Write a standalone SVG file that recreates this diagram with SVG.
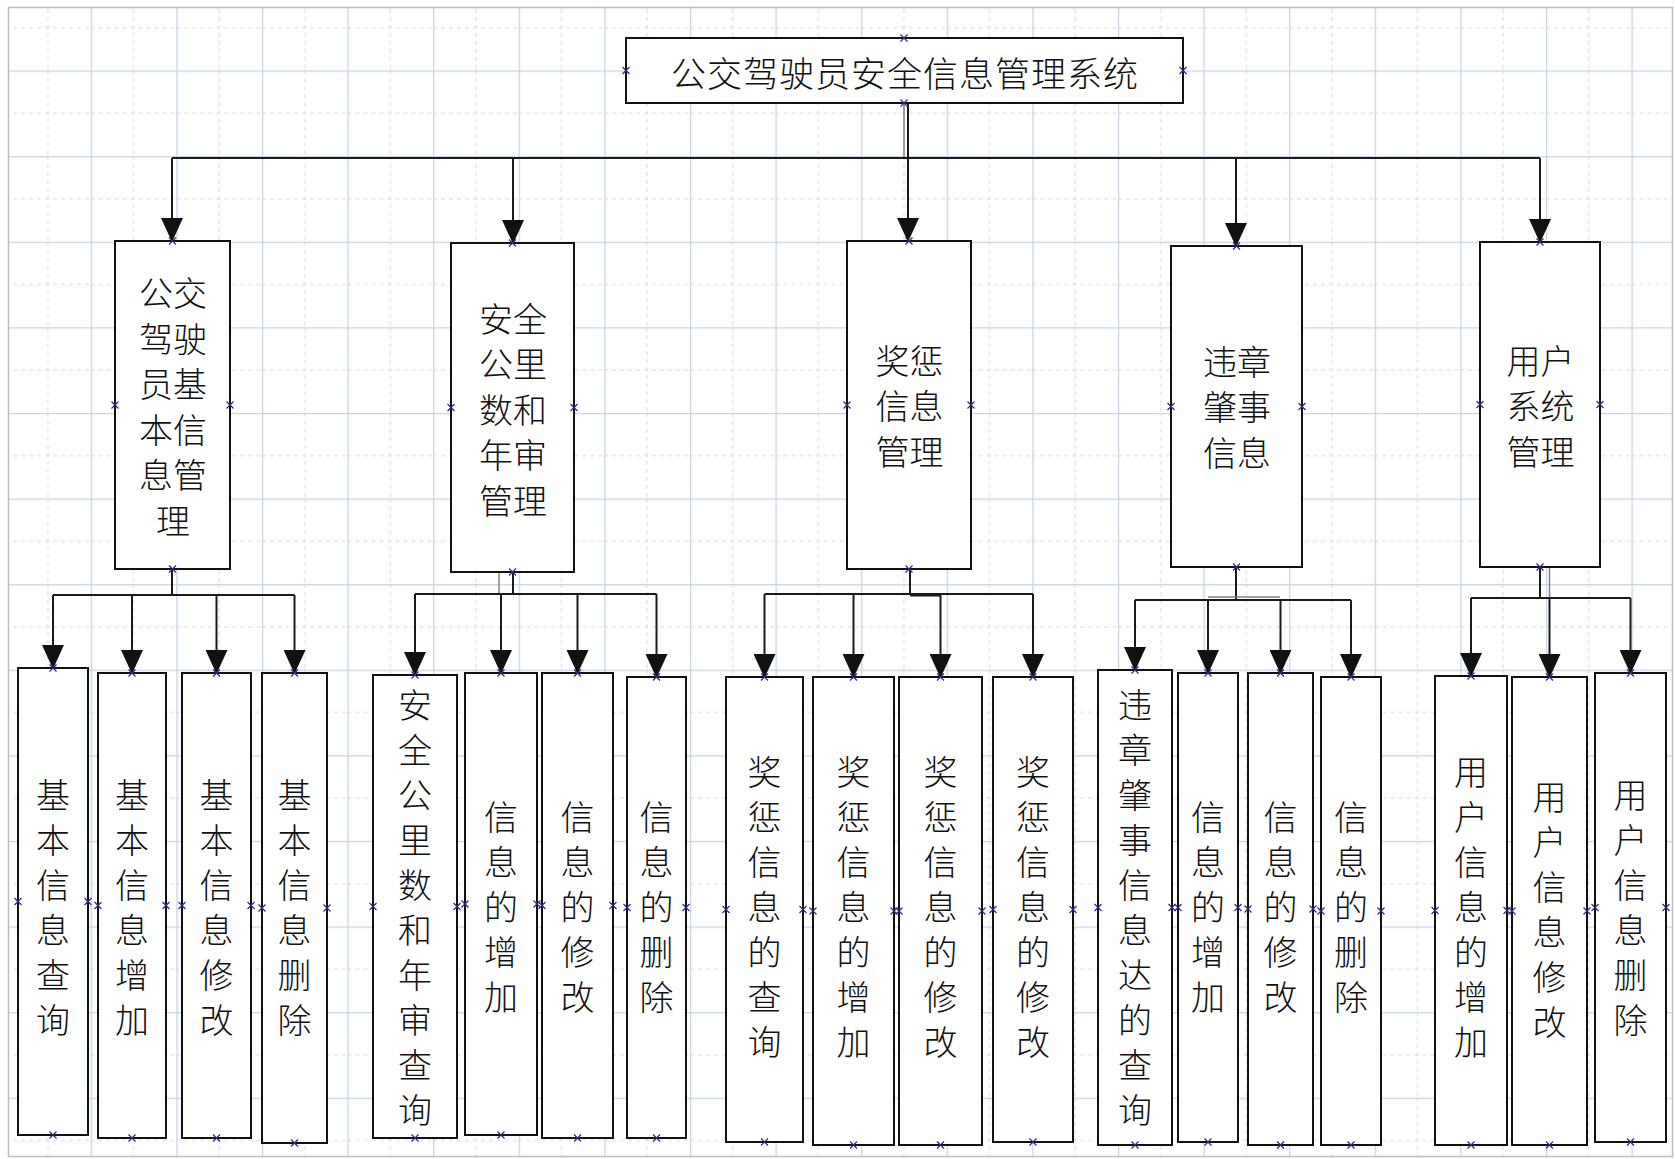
<svg xmlns="http://www.w3.org/2000/svg" xmlns:xlink="http://www.w3.org/1999/xlink" width="1675" height="1159" viewBox="0 0 1675 1159">
<style>
.bx{fill:#fff;stroke:#111;stroke-width:2}
.t{font-family:"Noto Sans CJK SC","Noto Sans",sans-serif;font-size:34px;font-weight:300;fill:#111;text-anchor:middle;dominant-baseline:central}
.ln{fill:none;stroke:#1a1a1a;stroke-width:2}
.lg{fill:none;stroke:#808080;stroke-width:1.5}
.cp{fill:none;stroke:#2b2b80;stroke-width:1.2}
</style>
<defs>
<pattern id="grid" patternUnits="userSpaceOnUse" x="5.1" y="-15.1" width="85.6" height="85.6">
<path d="M42.8,0 V85.6 M0,42.8 H85.6" stroke="#d2dae2" stroke-width="1" stroke-dasharray="4 4" fill="none"/>
<path d="M0.6,0 V85.6 M0,0.6 H85.6" stroke="#c3d5e4" stroke-width="1.3" fill="none"/>
</pattern>
<marker id="ah" markerUnits="userSpaceOnUse" viewBox="0 0 24 22" refX="23" refY="11" markerWidth="24" markerHeight="22" orient="auto">
<path d="M0,0 L24,11 L0,22 z" fill="#111"/>
</marker>
<path id="x" d="M-3.5,-3.5 L3.5,3.5 M-3.5,3.5 L3.5,-3.5"/>
</defs>
<rect width="1675" height="1159" fill="#fff"/>
<rect x="8.5" y="7.5" width="1664" height="1149" fill="url(#grid)" stroke="#bdbdbd" stroke-width="1.5"/>

<g id="connectors">
<line class="lg" x1="904" y1="103" x2="904" y2="158"/>
<line class="ln" x1="908" y1="103" x2="908" y2="241" marker-end="url(#ah)"/>
<line class="ln" x1="172" y1="158" x2="1540" y2="158" stroke="#333"/>
<line class="ln" x1="172" y1="158" x2="172" y2="241" marker-end="url(#ah)"/>
<line class="ln" x1="513" y1="158" x2="513" y2="243" marker-end="url(#ah)"/>
<line class="ln" x1="1236" y1="158" x2="1236" y2="246" marker-end="url(#ah)" stroke="#333"/>
<line class="ln" x1="1540" y1="158" x2="1540" y2="242" marker-end="url(#ah)" stroke="#333"/>

<polyline class="ln" points="172,569 172,595"/>
<line class="ln" x1="53" y1="595" x2="294.5" y2="595"/>
<line class="ln" x1="53" y1="595" x2="53" y2="668" marker-end="url(#ah)"/>
<line class="ln" x1="132" y1="595" x2="132" y2="673" marker-end="url(#ah)"/>
<line class="ln" x1="216.5" y1="595" x2="216.5" y2="673" marker-end="url(#ah)"/>
<line class="ln" x1="294.5" y1="595" x2="294.5" y2="673" marker-end="url(#ah)"/>

<line class="ln" x1="513" y1="572" x2="513" y2="594"/>
<line class="lg" x1="499" y1="572" x2="499" y2="594"/>
<line class="ln" x1="415" y1="594" x2="656.5" y2="594"/>
<line class="ln" x1="415" y1="594" x2="415" y2="675" marker-end="url(#ah)"/>
<line class="ln" x1="501" y1="594" x2="501" y2="673" marker-end="url(#ah)"/>
<line class="ln" x1="577.5" y1="594" x2="577.5" y2="673" marker-end="url(#ah)"/>
<line class="ln" x1="656.5" y1="594" x2="656.5" y2="677" marker-end="url(#ah)"/>

<line class="ln" x1="910" y1="569" x2="910" y2="594"/>
<line class="ln" x1="764.5" y1="594" x2="1033" y2="594"/>
<line class="ln" x1="910" y1="595.5" x2="941" y2="595.5" stroke-width="2.5"/>
<line class="ln" x1="764.5" y1="594" x2="764.5" y2="677" marker-end="url(#ah)"/>
<line class="ln" x1="853.5" y1="594" x2="853.5" y2="677" marker-end="url(#ah)"/>
<line class="ln" x1="940.5" y1="594" x2="940.5" y2="677" marker-end="url(#ah)"/>
<line class="ln" x1="1033" y1="594" x2="1033" y2="677" marker-end="url(#ah)"/>

<line class="ln" x1="1236" y1="567" x2="1236" y2="600"/>
<line class="ln" x1="1135" y1="600" x2="1351" y2="600"/>
<line class="lg" x1="1208" y1="597" x2="1280" y2="597"/>
<line class="ln" x1="1135" y1="600" x2="1135" y2="670" marker-end="url(#ah)"/>
<line class="ln" x1="1208" y1="600" x2="1208" y2="673" marker-end="url(#ah)"/>
<line class="ln" x1="1280.5" y1="600" x2="1280.5" y2="673" marker-end="url(#ah)"/>
<line class="ln" x1="1351" y1="600" x2="1351" y2="677" marker-end="url(#ah)"/>

<line class="ln" x1="1540" y1="567" x2="1540" y2="598" stroke-width="3.5"/>
<line class="lg" x1="1549.5" y1="567" x2="1549.5" y2="598"/>
<line class="ln" x1="1471" y1="598" x2="1630.5" y2="598"/>
<line class="ln" x1="1471" y1="598" x2="1471" y2="676" marker-end="url(#ah)"/>
<line class="ln" x1="1549.5" y1="598" x2="1549.5" y2="677" marker-end="url(#ah)"/>
<line class="ln" x1="1630.5" y1="598" x2="1630.5" y2="673" marker-end="url(#ah)"/>
</g>

<g id="root">
<rect class="bx" x="626" y="38" width="557" height="65"/>
<text class="t" x="905" y="71" style="font-size:35px;letter-spacing:1px">公交驾驶员安全信息管理系统</text>
<g class="cp"><use href="#x" x="904" y="38"/><use href="#x" x="904" y="103"/><use href="#x" x="626" y="70.5"/><use href="#x" x="1183" y="70.5"/></g>
</g>

<g id="n1">
<rect class="bx" x="115" y="241" width="115" height="328"/>
<text class="t" x="173"><tspan x="173" y="291.25">公交</tspan><tspan x="173" y="336.75">驾驶</tspan><tspan x="173" y="382.25">员基</tspan><tspan x="173" y="427.75">本信</tspan><tspan x="173" y="473.25">息管</tspan><tspan x="173" y="518.75">理</tspan></text>
<g class="cp"><use href="#x" x="172.5" y="241"/><use href="#x" x="172.5" y="569"/><use href="#x" x="115" y="405"/><use href="#x" x="230" y="405"/></g>
</g>
<g id="n2">
<rect class="bx" x="451" y="243" width="123" height="329"/>
<text class="t" x="513"><tspan x="513" y="316.5">安全</tspan><tspan x="513" y="362">公里</tspan><tspan x="513" y="407.5">数和</tspan><tspan x="513" y="453">年审</tspan><tspan x="513" y="498.5">管理</tspan></text>
<g class="cp"><use href="#x" x="512.5" y="243"/><use href="#x" x="512.5" y="572"/><use href="#x" x="451" y="407.5"/><use href="#x" x="574" y="407.5"/></g>
</g>
<g id="n3">
<rect class="bx" x="847" y="241" width="124" height="328"/>
<text class="t" x="909.5"><tspan x="909.5" y="358.5">奖惩</tspan><tspan x="909.5" y="404">信息</tspan><tspan x="909.5" y="449.5">管理</tspan></text>
<g class="cp"><use href="#x" x="909" y="241"/><use href="#x" x="909" y="569"/><use href="#x" x="847" y="405"/><use href="#x" x="971" y="405"/></g>
</g>
<g id="n4">
<rect class="bx" x="1171" y="246" width="131" height="321"/>
<text class="t" x="1237"><tspan x="1237" y="359.5">违章</tspan><tspan x="1237" y="405">肇事</tspan><tspan x="1237" y="450.5">信息</tspan></text>
<g class="cp"><use href="#x" x="1236.5" y="246"/><use href="#x" x="1236.5" y="567"/><use href="#x" x="1171" y="406.5"/><use href="#x" x="1302" y="406.5"/></g>
</g>
<g id="n5">
<rect class="bx" x="1480" y="242" width="120" height="325"/>
<text class="t" x="1540.5"><tspan x="1540.5" y="358.5">用户</tspan><tspan x="1540.5" y="404">系统</tspan><tspan x="1540.5" y="449.5">管理</tspan></text>
<g class="cp"><use href="#x" x="1540" y="242"/><use href="#x" x="1540" y="567"/><use href="#x" x="1480" y="404.5"/><use href="#x" x="1600" y="404.5"/></g>
</g>

<g id="c11">
<rect class="bx" x="18" y="668" width="70" height="467"/>
<text class="t" x="53"><tspan x="53" y="792.5">基</tspan><tspan x="53" y="837.5">本</tspan><tspan x="53" y="882.5">信</tspan><tspan x="53" y="927.5">息</tspan><tspan x="53" y="972.5">查</tspan><tspan x="53" y="1017.5">询</tspan></text>
<g class="cp"><use href="#x" x="53" y="668"/><use href="#x" x="53" y="1135"/><use href="#x" x="18" y="901.5"/><use href="#x" x="88" y="901.5"/></g>
</g>
<g id="c12">
<rect class="bx" x="98" y="673" width="68" height="465"/>
<text class="t" x="132"><tspan x="132" y="792.5">基</tspan><tspan x="132" y="837.5">本</tspan><tspan x="132" y="882.5">信</tspan><tspan x="132" y="927.5">息</tspan><tspan x="132" y="972.5">增</tspan><tspan x="132" y="1017.5">加</tspan></text>
<g class="cp"><use href="#x" x="132" y="673"/><use href="#x" x="132" y="1138"/><use href="#x" x="98" y="905.5"/><use href="#x" x="166" y="905.5"/></g>
</g>
<g id="c13">
<rect class="bx" x="182" y="673" width="69" height="465"/>
<text class="t" x="216.5"><tspan x="216.5" y="792.5">基</tspan><tspan x="216.5" y="837.5">本</tspan><tspan x="216.5" y="882.5">信</tspan><tspan x="216.5" y="927.5">息</tspan><tspan x="216.5" y="972.5">修</tspan><tspan x="216.5" y="1017.5">改</tspan></text>
<g class="cp"><use href="#x" x="216.5" y="673"/><use href="#x" x="216.5" y="1138"/><use href="#x" x="182" y="905.5"/><use href="#x" x="251" y="905.5"/></g>
</g>
<g id="c14">
<rect class="bx" x="262" y="673" width="65" height="470"/>
<text class="t" x="294.5"><tspan x="294.5" y="792.5">基</tspan><tspan x="294.5" y="837.5">本</tspan><tspan x="294.5" y="882.5">信</tspan><tspan x="294.5" y="927.5">息</tspan><tspan x="294.5" y="972.5">删</tspan><tspan x="294.5" y="1017.5">除</tspan></text>
<g class="cp"><use href="#x" x="294.5" y="673"/><use href="#x" x="294.5" y="1143"/><use href="#x" x="262" y="908"/><use href="#x" x="327" y="908"/></g>
</g>

<g id="c21">
<rect class="bx" x="373" y="675" width="84" height="463"/>
<text class="t" x="415"><tspan x="415" y="702.5">安</tspan><tspan x="415" y="747.5">全</tspan><tspan x="415" y="792.5">公</tspan><tspan x="415" y="837.5">里</tspan><tspan x="415" y="882.5">数</tspan><tspan x="415" y="927.5">和</tspan><tspan x="415" y="972.5">年</tspan><tspan x="415" y="1017.5">审</tspan><tspan x="415" y="1062.5">查</tspan><tspan x="415" y="1107.5">询</tspan></text>
<g class="cp"><use href="#x" x="415" y="675"/><use href="#x" x="415" y="1138"/><use href="#x" x="373" y="906.5"/><use href="#x" x="457" y="906.5"/></g>
</g>
<g id="c22">
<rect class="bx" x="465" y="673" width="72" height="462"/>
<text class="t" x="501"><tspan x="501" y="815">信</tspan><tspan x="501" y="860">息</tspan><tspan x="501" y="905">的</tspan><tspan x="501" y="950">增</tspan><tspan x="501" y="995">加</tspan></text>
<g class="cp"><use href="#x" x="501" y="673"/><use href="#x" x="501" y="1135"/><use href="#x" x="465" y="904"/><use href="#x" x="537" y="904"/></g>
</g>
<g id="c23">
<rect class="bx" x="542" y="673" width="71" height="465"/>
<text class="t" x="577.5"><tspan x="577.5" y="815">信</tspan><tspan x="577.5" y="860">息</tspan><tspan x="577.5" y="905">的</tspan><tspan x="577.5" y="950">修</tspan><tspan x="577.5" y="995">改</tspan></text>
<g class="cp"><use href="#x" x="577.5" y="673"/><use href="#x" x="577.5" y="1138"/><use href="#x" x="542" y="905.5"/><use href="#x" x="613" y="905.5"/></g>
</g>
<g id="c24">
<rect class="bx" x="627" y="677" width="59" height="461"/>
<text class="t" x="656.5"><tspan x="656.5" y="815">信</tspan><tspan x="656.5" y="860">息</tspan><tspan x="656.5" y="905">的</tspan><tspan x="656.5" y="950">删</tspan><tspan x="656.5" y="995">除</tspan></text>
<g class="cp"><use href="#x" x="656.5" y="677"/><use href="#x" x="656.5" y="1138"/><use href="#x" x="627" y="907.5"/><use href="#x" x="686" y="907.5"/></g>
</g>

<g id="c31">
<rect class="bx" x="726" y="677" width="77" height="465"/>
<text class="t" x="764.5"><tspan x="764.5" y="770">奖</tspan><tspan x="764.5" y="815">惩</tspan><tspan x="764.5" y="860">信</tspan><tspan x="764.5" y="905">息</tspan><tspan x="764.5" y="950">的</tspan><tspan x="764.5" y="995">查</tspan><tspan x="764.5" y="1040">询</tspan></text>
<g class="cp"><use href="#x" x="764.5" y="677"/><use href="#x" x="764.5" y="1142"/><use href="#x" x="726" y="909.5"/><use href="#x" x="803" y="909.5"/></g>
</g>
<g id="c32">
<rect class="bx" x="813" y="677" width="81" height="468"/>
<text class="t" x="853.5"><tspan x="853.5" y="770">奖</tspan><tspan x="853.5" y="815">惩</tspan><tspan x="853.5" y="860">信</tspan><tspan x="853.5" y="905">息</tspan><tspan x="853.5" y="950">的</tspan><tspan x="853.5" y="995">增</tspan><tspan x="853.5" y="1040">加</tspan></text>
<g class="cp"><use href="#x" x="853.5" y="677"/><use href="#x" x="853.5" y="1145"/><use href="#x" x="813" y="911"/><use href="#x" x="894" y="911"/></g>
</g>
<g id="c33">
<rect class="bx" x="899" y="677" width="83" height="468"/>
<text class="t" x="940.5"><tspan x="940.5" y="770">奖</tspan><tspan x="940.5" y="815">惩</tspan><tspan x="940.5" y="860">信</tspan><tspan x="940.5" y="905">息</tspan><tspan x="940.5" y="950">的</tspan><tspan x="940.5" y="995">修</tspan><tspan x="940.5" y="1040">改</tspan></text>
<g class="cp"><use href="#x" x="940.5" y="677"/><use href="#x" x="940.5" y="1145"/><use href="#x" x="899" y="911"/><use href="#x" x="982" y="911"/></g>
</g>
<g id="c34">
<rect class="bx" x="993" y="677" width="80" height="465"/>
<text class="t" x="1033"><tspan x="1033" y="770">奖</tspan><tspan x="1033" y="815">惩</tspan><tspan x="1033" y="860">信</tspan><tspan x="1033" y="905">息</tspan><tspan x="1033" y="950">的</tspan><tspan x="1033" y="995">修</tspan><tspan x="1033" y="1040">改</tspan></text>
<g class="cp"><use href="#x" x="1033" y="677"/><use href="#x" x="1033" y="1142"/><use href="#x" x="993" y="909.5"/><use href="#x" x="1073" y="909.5"/></g>
</g>

<g id="c41">
<rect class="bx" x="1098" y="670" width="74" height="475"/>
<text class="t" x="1135"><tspan x="1135" y="702.5">违</tspan><tspan x="1135" y="747.5">章</tspan><tspan x="1135" y="792.5">肇</tspan><tspan x="1135" y="837.5">事</tspan><tspan x="1135" y="882.5">信</tspan><tspan x="1135" y="927.5">息</tspan><tspan x="1135" y="972.5">达</tspan><tspan x="1135" y="1017.5">的</tspan><tspan x="1135" y="1062.5">查</tspan><tspan x="1135" y="1107.5">询</tspan></text>
<g class="cp"><use href="#x" x="1135" y="670"/><use href="#x" x="1135" y="1145"/><use href="#x" x="1098" y="907.5"/><use href="#x" x="1172" y="907.5"/></g>
</g>
<g id="c42">
<rect class="bx" x="1178" y="673" width="60" height="469"/>
<text class="t" x="1208"><tspan x="1208" y="815">信</tspan><tspan x="1208" y="860">息</tspan><tspan x="1208" y="905">的</tspan><tspan x="1208" y="950">增</tspan><tspan x="1208" y="995">加</tspan></text>
<g class="cp"><use href="#x" x="1208" y="673"/><use href="#x" x="1208" y="1142"/><use href="#x" x="1178" y="907.5"/><use href="#x" x="1238" y="907.5"/></g>
</g>
<g id="c43">
<rect class="bx" x="1248" y="673" width="65" height="472"/>
<text class="t" x="1280.5"><tspan x="1280.5" y="815">信</tspan><tspan x="1280.5" y="860">息</tspan><tspan x="1280.5" y="905">的</tspan><tspan x="1280.5" y="950">修</tspan><tspan x="1280.5" y="995">改</tspan></text>
<g class="cp"><use href="#x" x="1280.5" y="673"/><use href="#x" x="1280.5" y="1145"/><use href="#x" x="1248" y="909"/><use href="#x" x="1313" y="909"/></g>
</g>
<g id="c44">
<rect class="bx" x="1321" y="677" width="60" height="468"/>
<text class="t" x="1351"><tspan x="1351" y="815">信</tspan><tspan x="1351" y="860">息</tspan><tspan x="1351" y="905">的</tspan><tspan x="1351" y="950">删</tspan><tspan x="1351" y="995">除</tspan></text>
<g class="cp"><use href="#x" x="1351" y="677"/><use href="#x" x="1351" y="1145"/><use href="#x" x="1321" y="911"/><use href="#x" x="1381" y="911"/></g>
</g>

<g id="c51">
<rect class="bx" x="1435" y="676" width="72" height="469"/>
<text class="t" x="1471"><tspan x="1471" y="770">用</tspan><tspan x="1471" y="815">户</tspan><tspan x="1471" y="860">信</tspan><tspan x="1471" y="905">息</tspan><tspan x="1471" y="950">的</tspan><tspan x="1471" y="995">增</tspan><tspan x="1471" y="1040">加</tspan></text>
<g class="cp"><use href="#x" x="1471" y="676"/><use href="#x" x="1471" y="1145"/><use href="#x" x="1435" y="910.5"/><use href="#x" x="1507" y="910.5"/></g>
</g>
<g id="c52">
<rect class="bx" x="1512" y="677" width="75" height="468"/>
<text class="t" x="1549.5"><tspan x="1549.5" y="795">用</tspan><tspan x="1549.5" y="840">户</tspan><tspan x="1549.5" y="885">信</tspan><tspan x="1549.5" y="930">息</tspan><tspan x="1549.5" y="975">修</tspan><tspan x="1549.5" y="1020">改</tspan></text>
<g class="cp"><use href="#x" x="1549.5" y="677"/><use href="#x" x="1549.5" y="1145"/><use href="#x" x="1512" y="911"/><use href="#x" x="1587" y="911"/></g>
</g>
<g id="c53">
<rect class="bx" x="1595" y="673" width="71" height="469"/>
<text class="t" x="1630.5"><tspan x="1630.5" y="792.5">用</tspan><tspan x="1630.5" y="837.5">户</tspan><tspan x="1630.5" y="882.5">信</tspan><tspan x="1630.5" y="927.5">息</tspan><tspan x="1630.5" y="972.5">删</tspan><tspan x="1630.5" y="1017.5">除</tspan></text>
<g class="cp"><use href="#x" x="1630.5" y="673"/><use href="#x" x="1630.5" y="1142"/><use href="#x" x="1595" y="907.5"/><use href="#x" x="1666" y="907.5"/></g>
</g>
</svg>
